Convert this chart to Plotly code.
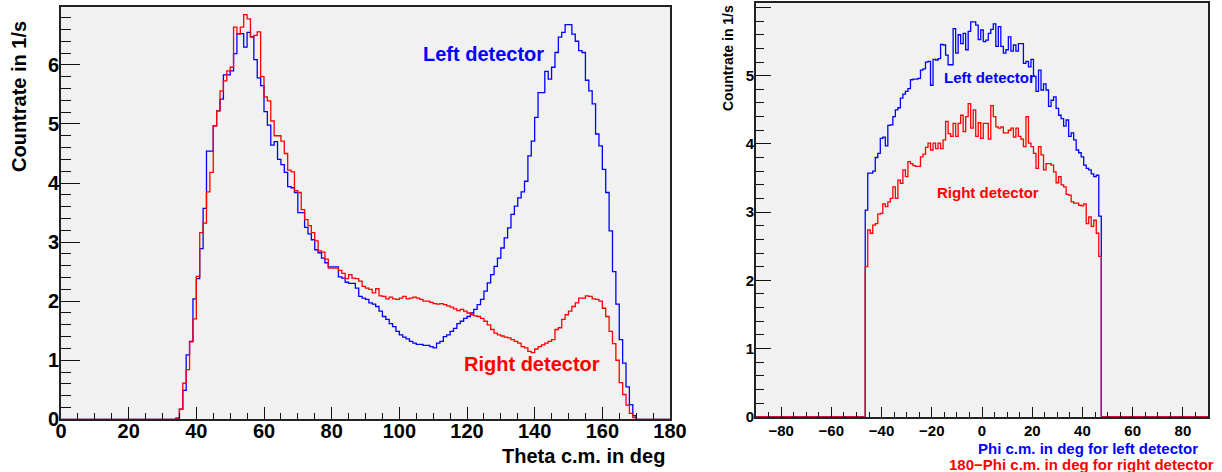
import plotly.graph_objects as go

# ---- Theta c.m. distribution, 1 deg bins, first filled bin starts at 34 deg ----
theta_first_bin = 34
theta_nbins = 180
theta_left = [
    0.02, 0.17, 0.49, 1.09, 1.32, 2.04, 2.38, 2.89, 3.57, 4.54,
    4.54, 4.97, 5.22, 5.42, 5.83, 5.83, 5.90, 6.19, 6.53, 6.53,
    6.30, 6.55, 6.48, 6.09, 5.78, 5.65, 5.21, 4.98, 4.64, 4.70,
    4.40, 4.31, 4.18, 3.94, 3.92, 3.84, 3.50, 3.50, 3.25, 3.14,
    3.04, 2.87, 2.82, 2.73, 2.65, 2.58, 2.58, 2.58, 2.41, 2.39,
    2.32, 2.30, 2.30, 2.22, 2.08, 2.05, 2.03, 1.97, 1.95, 1.91,
    1.83, 1.74, 1.69, 1.62, 1.57, 1.49, 1.43, 1.39, 1.36, 1.32,
    1.29, 1.27, 1.27, 1.25, 1.25, 1.23, 1.21, 1.29, 1.32, 1.40,
    1.43, 1.49, 1.54, 1.62, 1.66, 1.71, 1.74, 1.80, 1.86, 1.94,
    2.03, 2.17, 2.31, 2.45, 2.59, 2.73, 2.90, 3.07, 3.24, 3.47,
    3.61, 3.75, 3.85, 4.03, 4.46, 4.71, 5.11, 5.53, 5.53, 5.89,
    5.76, 5.96, 6.21, 6.47, 6.55, 6.68, 6.68, 6.52, 6.40, 6.24,
    6.21, 5.74, 5.56, 5.34, 4.83, 4.63, 4.23, 3.84, 3.19, 2.50,
    1.95, 1.35, 0.95, 0.55, 0.25, 0.06,
]
theta_right = [
    0.02, 0.17, 0.61, 0.84, 1.31, 1.70, 2.42, 3.16, 3.32, 3.85,
    4.18, 4.97, 5.22, 5.56, 5.73, 5.90, 5.96, 6.64, 6.52, 6.64,
    6.85, 6.78, 6.47, 6.50, 6.56, 5.80, 5.46, 5.39, 5.05, 4.80,
    4.80, 4.71, 4.50, 4.22, 4.19, 3.87, 3.84, 3.55, 3.38, 3.28,
    3.16, 3.02, 2.85, 2.83, 2.71, 2.56, 2.56, 2.56, 2.52, 2.47,
    2.38, 2.45, 2.39, 2.38, 2.34, 2.25, 2.22, 2.20, 2.14, 2.21,
    2.09, 2.08, 2.04, 2.07, 2.04, 2.03, 2.05, 2.08, 2.04, 2.05,
    2.07, 2.05, 2.03, 2.00, 2.00, 1.98, 1.96, 1.95, 1.96, 1.94,
    1.92, 1.90, 1.87, 1.84, 1.86, 1.83, 1.80, 1.77, 1.75, 1.74,
    1.71, 1.66, 1.60, 1.52, 1.46, 1.43, 1.41, 1.39, 1.38, 1.35,
    1.32, 1.29, 1.23, 1.21, 1.15, 1.13, 1.19, 1.23, 1.26, 1.29,
    1.32, 1.35, 1.52, 1.55, 1.69, 1.77, 1.83, 1.91, 1.97, 2.05,
    2.05, 2.09, 2.08, 2.04, 2.03, 2.00, 1.88, 1.74, 1.49, 1.28,
    1.00, 0.62, 0.42, 0.24, 0.10, 0.03,
]

# ---- Phi c.m. distribution, 1 deg bins from -46.5 to 47.5 deg ----
phi_first_edge = -46.5
phi_left = [
    3.03, 3.57, 3.57, 3.60, 3.80, 3.86, 4.08, 4.10, 3.97, 4.27,
    4.28, 4.40, 4.50, 4.53, 4.67, 4.73, 4.77, 4.81, 4.94, 4.95,
    4.95, 4.96, 5.08, 5.10, 5.20, 5.21, 4.86, 5.24, 5.23, 5.25,
    5.46, 5.45, 5.30, 5.16, 5.16, 5.69, 5.33, 5.60, 5.47, 5.62,
    5.38, 5.65, 5.79, 5.79, 5.74, 5.53, 5.67, 5.50, 5.52, 5.62,
    5.68, 5.76, 5.43, 5.72, 5.43, 5.33, 5.38, 5.57, 5.36, 5.45,
    5.36, 5.47, 5.47, 5.18, 5.21, 5.13, 5.24, 4.99, 4.77, 5.08,
    4.79, 4.88, 4.79, 4.55, 4.64, 4.69, 4.52, 4.42, 4.37, 4.26,
    4.35, 4.11, 4.16, 4.06, 3.91, 3.87, 3.81, 3.69, 3.64, 3.62,
    3.56, 3.52, 3.54, 2.94,
]
phi_right = [
    2.20, 2.74, 2.69, 2.81, 2.83, 2.97, 2.98, 3.12, 3.08, 3.15,
    3.20, 3.37, 3.20, 3.47, 3.42, 3.62, 3.52, 3.74, 3.71, 3.68,
    3.67, 3.67, 3.81, 3.85, 3.95, 4.01, 3.91, 4.01, 3.93, 4.01,
    3.93, 4.06, 4.33, 4.15, 4.11, 4.30, 4.11, 4.30, 4.42, 4.18,
    4.40, 4.59, 4.23, 4.50, 4.11, 4.31, 4.08, 4.30, 4.30, 4.07,
    4.56, 4.40, 4.25, 4.23, 4.25, 4.16, 4.16, 4.20, 4.23, 4.10,
    4.23, 4.11, 4.07, 3.96, 4.40, 4.01, 3.96, 3.86, 3.64, 3.96,
    3.84, 3.62, 3.71, 3.71, 3.69, 3.59, 3.43, 3.52, 3.40, 3.37,
    3.26, 3.25, 3.15, 3.13, 3.13, 3.10, 3.09, 3.12, 2.83, 2.93,
    2.79, 2.88, 2.69, 2.35,
]

BLUE = "#0000ff"
RED = "#ff0000"
W, H = 1222, 472
FONT = "Liberation Sans, Arial, Helvetica, sans-serif"


def theta_steps(values):
    """Full 0..180 deg histogram outline as hv-step coordinates."""
    counts = [0.0] * theta_nbins
    for i, v in enumerate(values):
        counts[theta_first_bin + i] = v
    xs = list(range(theta_nbins + 1))
    ys = counts + [counts[-1]]
    return xs, ys


def phi_steps(values):
    """Phi histogram outline on -90..90 deg, zero outside the filled bins."""
    lo = phi_first_edge
    xs = [-90, lo] + [lo + i for i in range(1, len(values) + 1)] + [90]
    ys = [0.0] + list(values) + [0.0, 0.0]
    return xs, ys


fig = go.Figure()

for vals, col in ((theta_left, BLUE), (theta_right, RED)):
    x, y = theta_steps(vals)
    fig.add_trace(go.Scatter(x=x, y=y, mode="lines", line=dict(color=col, width=1.3, shape="hv"),
                             xaxis="x", yaxis="y", showlegend=False, hoverinfo="skip"))

for vals, col in ((phi_left, BLUE), (phi_right, RED)):
    x, y = phi_steps(vals)
    fig.add_trace(go.Scatter(x=x, y=y, mode="lines", line=dict(color=col, width=1.3, shape="hv"),
                             xaxis="x2", yaxis="y2", showlegend=False, hoverinfo="skip"))


def px(xp):
    return xp / W


def py(yp):
    return 1 - yp / H


axis_common = dict(showgrid=False, zeroline=False, showline=True, mirror=True,
                   linecolor="#222222", linewidth=2, ticks="inside", tickcolor="#111111",
                   tickwidth=1, automargin=False)

fig.update_layout(
    width=W, height=H,
    autosize=False,
    margin=dict(l=0, r=0, t=0, b=0, pad=0),
    paper_bgcolor="white",
    plot_bgcolor="#f1f1f1",
    xaxis=dict(domain=[px(61), px(670)], range=[0, 180], anchor="y",
               tickmode="linear", tick0=0, dtick=20, ticklen=12,
               minor=dict(ticks="inside", dtick=5, ticklen=6, tickcolor="#111111"),
               tickfont=dict(family=FONT, size=20, color="black", weight="bold"),
               ticklabelstandoff=-7, **axis_common),
    yaxis=dict(domain=[py(419.3), py(7)], range=[0, 6.98], anchor="x",
               tickmode="linear", tick0=0, dtick=1, ticklen=19,
               minor=dict(ticks="inside", dtick=0.2, ticklen=10, tickcolor="#111111"),
               tickfont=dict(family=FONT, size=20, color="black", weight="bold"),
               ticklabelstandoff=-4, **axis_common),
    xaxis2=dict(domain=[px(756), px(1208)], range=[-90, 90], anchor="y2",
                tickmode="linear", tick0=0, dtick=20, ticklen=10,
                minor=dict(ticks="inside", dtick=5, ticklen=5, tickcolor="#111111"),
                tickfont=dict(family=FONT, size=15, color="black", weight="bold"),
                ticklabelstandoff=-1, **axis_common),
    yaxis2=dict(domain=[py(416.7), py(2.7)], range=[0, 6.07], anchor="x2",
                tickmode="linear", tick0=0, dtick=1, ticklen=15,
                minor=dict(ticks="inside", dtick=0.2, ticklen=8, tickcolor="#111111"),
                tickfont=dict(family=FONT, size=15, color="black", weight="bold"),
                ticklabelstandoff=-3, **axis_common),
)


def label(text, x, y, size, color="black", xanchor="center", angle=0):
    fig.add_annotation(text=text, x=px(x), y=py(y), xref="paper", yref="paper",
                       xanchor=xanchor, yanchor="middle", showarrow=False, textangle=angle,
                       font=dict(family=FONT, size=size, color=color, weight="bold"))


# axis titles
label("Countrate in 1/s", 19.5, 96.5, 20, angle=-90)
label("Theta c.m. in deg", 667, 456, 20, xanchor="right")
label("Countrate in 1/s", 728.5, 58.5, 14, angle=-90)
label("Phi c.m. in deg for left detector", 1200, 448, 15, color=BLUE, xanchor="right")
label("180\u2212Phi c.m. in deg for right detector", 1216, 464, 15, color=RED, xanchor="right")

# detector labels
label("Left detector", 483, 54, 20, color=BLUE)
label("Right detector", 532, 364, 20, color=RED)
label("Left detector", 989, 77, 15, color=BLUE)
label("Right detector", 988, 192.5, 15, color=RED)

fig.write_html("out.html")
